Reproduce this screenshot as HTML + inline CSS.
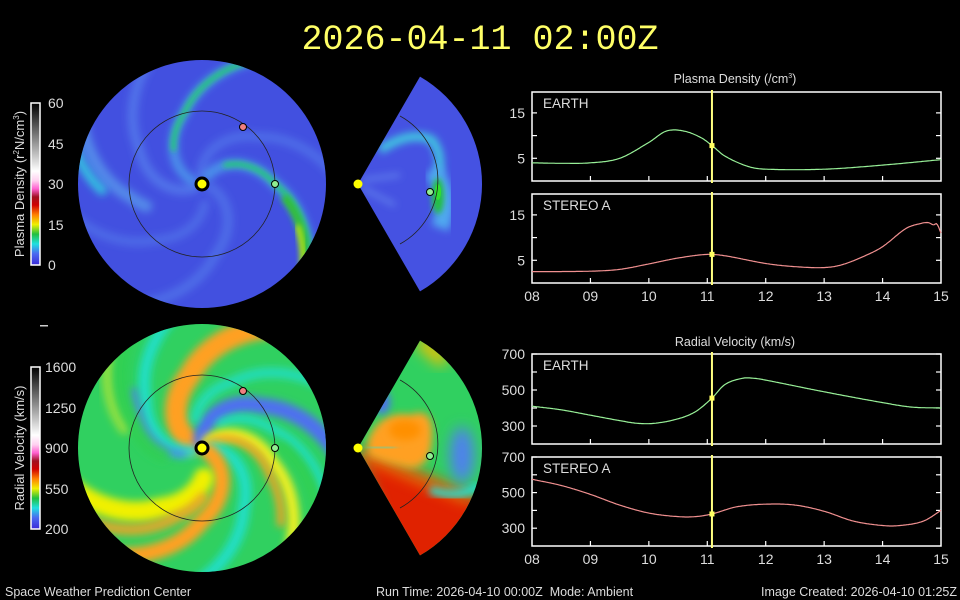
<!DOCTYPE html>
<html><head><meta charset="utf-8">
<style>
html,body{margin:0;padding:0;background:#000;}
svg{display:block;}
text{font-family:"Liberation Sans",sans-serif;fill:#ddd;}
</style></head>
<body>
<svg id="s" width="960" height="600" viewBox="0 0 960 600" xmlns="http://www.w3.org/2000/svg">
<defs>
 <linearGradient id="cbD" x1="0" y1="1" x2="0" y2="0">
  <stop offset="0" stop-color="#3a2ad8"/><stop offset="0.07" stop-color="#4a6af0"/>
  <stop offset="0.13" stop-color="#20e0e0"/><stop offset="0.19" stop-color="#20c040"/>
  <stop offset="0.25" stop-color="#f0f000"/><stop offset="0.31" stop-color="#ff8000"/>
  <stop offset="0.37" stop-color="#d00000"/><stop offset="0.42" stop-color="#a01020"/>
  <stop offset="0.47" stop-color="#ff60d0"/><stop offset="0.52" stop-color="#ffd0f0"/>
  <stop offset="0.58" stop-color="#ffffff"/><stop offset="1" stop-color="#000000"/>
 </linearGradient>
 <clipPath id="c1"><circle cx="202" cy="184" r="124"/></clipPath>
 <clipPath id="c2"><circle cx="202" cy="448" r="124"/></clipPath>
 <clipPath id="w1"><path d="M358,184 L420,76.6 A124,124 0 0 1 420,291.4 Z"/></clipPath>
 <clipPath id="w2"><path d="M358,448 L420,340.6 A124,124 0 0 1 420,555.4 Z"/></clipPath>
 <filter id="b3" x="-50%" y="-50%" width="200%" height="200%"><feGaussianBlur stdDeviation="3"/></filter>
 <filter id="b4" x="-50%" y="-50%" width="200%" height="200%"><feGaussianBlur stdDeviation="4"/></filter>
 <filter id="b7" x="-50%" y="-50%" width="200%" height="200%"><feGaussianBlur stdDeviation="7"/></filter>
</defs>

<text x="480" y="49" text-anchor="middle" style="font-family:'Liberation Mono',monospace;font-size:35px;fill:#ffff66">2026-04-11 02:00Z</text>

<rect x="31" y="103" width="9" height="162" fill="url(#cbD)" stroke="#fff" stroke-width="1.5"/>
<rect x="31" y="367" width="9" height="162" fill="url(#cbD)" stroke="#fff" stroke-width="1.5"/>
<g font-size="14">
<text x="48" y="108">60</text><text x="48" y="149">45</text><text x="48" y="189">30</text><text x="48" y="230">15</text><text x="48" y="270">0</text>
<text x="45" y="372">1600</text><text x="45" y="413">1250</text><text x="45" y="453">900</text><text x="45" y="494">550</text><text x="45" y="534">200</text>
</g>
<text transform="translate(24,184) rotate(-90)" text-anchor="middle" font-size="13">Plasma Density (r<tspan font-size="8" dy="-5">2</tspan><tspan dy="5">N/cm</tspan><tspan font-size="8" dy="-5">3</tspan><tspan dy="5">)</tspan></text>
<text transform="translate(24,448) rotate(-90)" text-anchor="middle" font-size="13">Radial Velocity (km/s)</text>
<rect x="40" y="325" width="8" height="1.5" fill="#ccc"/>

<g id="g1" clip-path="url(#c1)"><rect x="70" y="50" width="270" height="270" fill="#4250e0"/></g>
<g id="g2" clip-path="url(#c2)"><rect x="70" y="314" width="270" height="270" fill="#30d060"/></g>
<g id="g3" clip-path="url(#w1)"><rect x="350" y="60" width="140" height="240" fill="#4552e2"/></g>
<g id="g4" clip-path="url(#w2)"><rect x="350" y="330" width="140" height="240" fill="#30d060"/></g>
<g id="ov"></g>
<g id="plots"></g>

<g font-size="12.5">
<text x="5" y="596">Space Weather Prediction Center</text>
<text x="376" y="596" xml:space="preserve">Run Time: 2026-04-10 00:00Z  Mode: Ambient</text>
<text x="957" y="596" text-anchor="end">Image Created: 2026-04-10 01:25Z</text>
</g>
</svg>
<script>
const NS="http://www.w3.org/2000/svg";
function el(p,t,a){const e=document.createElementNS(NS,t);for(const k in a)e.setAttribute(k,a[k]);p.appendChild(e);return e;}
const D2R=Math.PI/180;
function spiral(g,cx,cy,a0,w,col,op,r0,r1,blur){
  let pts=[];
  for(let r=r0;r<=r1;r+=3){const k=r<73?0.9:0.6;const a=(a0+k*(r-73))*D2R;pts.push((cx+r*Math.cos(a)).toFixed(1)+","+(cy+r*Math.sin(a)).toFixed(1));}
  el(g,"polyline",{points:pts.join(" "),fill:"none",stroke:col,"stroke-width":w,"stroke-opacity":op,"stroke-linecap":"round",filter:"url(#"+(blur||"b4")+")"});
}
const g1=document.getElementById("g1");
[[-150,10,"#5a8af0",0.6,8,135],[-40,9,"#5a8af0",0.5,8,135],[80,10,"#5a8af0",0.5,8,135],[130,9,"#5a8af0",0.45,20,135],[170,12,"#60b0f0",0.6,60,140],
 [0,10,"#50b0f0",0.7,10,140],[-104,9,"#50b0f0",0.7,10,140]].forEach(s=>spiral(g1,202,184,...s));
spiral(g1,202,184,0,5,"#20d070",1,30,140,"b3");
spiral(g1,202,184,3,8,"#30c030",1,85,140,"b3");
spiral(g1,202,184,5,5,"#d0f000",0.9,105,140,"b3");
spiral(g1,202,184,-104,5,"#20d070",1,45,140,"b3");
spiral(g1,202,184,160,9,"#30e0e0",0.8,100,140);
el(g1,"circle",{cx:202,cy:184,r:73,fill:"none",stroke:"#222","stroke-width":0.8});
const g2=document.getElementById("g2");
[[-100,22,"#ffa020",1,10,140],[-140,12,"#20e0d0",0.9,10,140],[-150,8,"#5080f0",0.8,20,90],
 [-35,16,"#5070f0",1,8,150],[-15,8,"#20e0d0",0.9,30,150],[12,12,"#f0f020",1,8,150],[22,8,"#ffa020",0.9,10,110],
 [55,12,"#20e0d0",0.9,10,140],[90,16,"#ffa020",1,8,150],[125,20,"#f0f000",1,30,150],[110,12,"#ffa020",0.8,50,150],
 [-65,10,"#20e0d0",0.8,30,150],[-170,12,"#f0f020",0.5,80,150],[200,14,"#30d050",0.8,40,150],[-5,10,"#30d050",0.8,80,150]].forEach(s=>spiral(g2,202,448,...s));
el(g2,"circle",{cx:202,cy:448,r:73,fill:"none",stroke:"#222","stroke-width":0.8});
const g3=document.getElementById("g3");
el(g3,"path",{d:"M380,150 Q410,130 432,140 Q443,155 438,175",fill:"none",stroke:"#40d0e0","stroke-width":8,filter:"url(#b4)"});
el(g3,"path",{d:"M432,170 Q452,195 440,228",fill:"none",stroke:"#50a8f0","stroke-width":18,filter:"url(#b4)"});
el(g3,"ellipse",{cx:438,cy:196,rx:6,ry:18,fill:"#20c040",filter:"url(#b3)"});
el(g3,"ellipse",{cx:438,cy:192,rx:3,ry:8,fill:"#30e030"});
el(g3,"path",{d:"M362,180 L400,175 M362,188 L395,205",stroke:"#6a90f0","stroke-width":3,filter:"url(#b4)"});
el(g3,"path",{d:"M400,116 A73,73 0 0 1 400,244",fill:"none",stroke:"#222","stroke-width":0.8});
const g4=document.getElementById("g4");
el(g4,"path",{d:"M358,448 L490,505 L490,570 L400,570 Z",fill:"#e02000",filter:"url(#b7)"});
el(g4,"path",{d:"M362,455 L470,500",stroke:"#ff8000","stroke-width":10,opacity:0.7,filter:"url(#b7)"});
el(g4,"path",{d:"M430,490 Q460,500 480,485",fill:"none",stroke:"#20e0d0","stroke-width":8,filter:"url(#b4)"});
el(g4,"path",{d:"M368,440 Q380,410 410,415 Q435,405 432,440 Q430,468 410,468 Q380,462 368,455 Z",fill:"#ffa020",filter:"url(#b4)"});
el(g4,"ellipse",{cx:405,cy:430,rx:16,ry:10,fill:"#ff9000",filter:"url(#b4)"});
el(g4,"path",{d:"M368,447 L395,448",stroke:"#30e0d0","stroke-width":4,filter:"url(#b4)"});
el(g4,"ellipse",{cx:462,cy:455,rx:12,ry:28,fill:"#5080f0",filter:"url(#b7)"});
el(g4,"ellipse",{cx:382,cy:402,rx:8,ry:12,fill:"#5070f0",filter:"url(#b4)"});
el(g4,"path",{d:"M420,340 L445,362",stroke:"#f0c000","stroke-width":14,filter:"url(#b7)"});
el(g4,"path",{d:"M400,380 A73,73 0 0 1 400,508",fill:"none",stroke:"#222","stroke-width":0.8});
const ov=document.getElementById("ov");
[[202,184],[202,448]].forEach(([x,y])=>{el(ov,"circle",{cx:x,cy:y,r:6,fill:"#ff0",stroke:"#000","stroke-width":3});});
[[358,184],[358,448]].forEach(([x,y])=>{el(ov,"circle",{cx:x,cy:y,r:4.5,fill:"#ff0"});});
[[243,127],[243,391]].forEach(([x,y])=>el(ov,"circle",{cx:x,cy:y,r:3.5,fill:"#f08080",stroke:"#000","stroke-width":1}));
[[275,184],[275,448],[430,192],[430,456]].forEach(([x,y])=>el(ov,"circle",{cx:x,cy:y,r:3.5,fill:"#90ee90",stroke:"#000","stroke-width":1}));

const P=document.getElementById("plots");
const X0=532,X1=941,dx=(X1-X0)/7;
function interp(pts,x){for(let i=0;i<pts.length-1;i++){if(x<=pts[i+1][0]){const p0=pts[Math.max(0,i-1)],p1=pts[i],p2=pts[i+1],p3=pts[Math.min(pts.length-1,i+2)];
 const t=(x-p1[0])/(p2[0]-p1[0]);const m1=(p2[1]-p0[1])/(p2[0]-p0[0])*(p2[0]-p1[0]),m2=(p3[1]-p1[1])/(p3[0]-p1[0])*(p2[0]-p1[0]);
 const t2=t*t,t3=t2*t;return (2*t3-3*t2+1)*p1[1]+(t3-2*t2+t)*m1+(-2*t3+3*t2)*p2[1]+(t3-t2)*m2;}}return pts[pts.length-1][1];}
function panel(top,bot,ymin,ymax,yt,lab,data,col,xlabels){
  el(P,"rect",{x:X0,y:top,width:X1-X0,height:bot-top,fill:"none",stroke:"#fff","stroke-width":1.5});
  const Y=v=>bot-(v-ymin)/(ymax-ymin)*(bot-top);
  for(let i=1;i<7;i++){const x=X0+i*dx;el(P,"line",{x1:x,y1:bot,x2:x,y2:bot-5,stroke:"#fff","stroke-width":1.2});}
  yt.forEach(([v,l])=>{const y=Y(v);el(P,"line",{x1:X0,y1:y,x2:X0+5,y2:y,stroke:"#fff","stroke-width":1.2});el(P,"line",{x1:X1,y1:y,x2:X1-5,y2:y,stroke:"#fff","stroke-width":1.2});
    if(l){const t=el(P,"text",{x:525,y:y+5,"text-anchor":"end","font-size":14});t.textContent=l;}});
  const t=el(P,"text",{x:543,y:top+16,"font-size":13.5});t.textContent=lab;
  let pts=[];for(let d=8;d<=15.0001;d+=0.02){pts.push((X0+(d-8)*dx).toFixed(1)+","+Y(interp(data,d)).toFixed(1));}
  el(P,"polyline",{points:pts.join(" "),fill:"none",stroke:col,"stroke-width":1.2});
  const xv=X0+3.08*dx;
  el(P,"line",{x1:xv,y1:top-2,x2:xv,y2:bot+2,stroke:"#ffff80","stroke-width":2});
  el(P,"rect",{x:xv-2.5,y:Y(interp(data,11.08))-2.5,width:5,height:5,fill:"#ffff60"});
  if(xlabels){const L=["08","09","10","11","12","13","14","15"];for(let i=0;i<=7;i++){const tt=el(P,"text",{x:X0+i*dx,y:bot+18,"text-anchor":"middle","font-size":14});tt.textContent=L[i];}}
}
const ED=[[8,4],[8.5,3.9],[9,4],[9.5,5],[10,8.5],[10.3,11],[10.6,11],[10.9,9.5],[11.08,7.8],[11.3,5.5],[11.7,3.2],[12,2.6],[13,2.6],[14,3.5],[15,4.7]];
const SD=[[8,2.5],[9,2.6],[9.5,3],[10,4.2],[10.5,5.5],[11,6.3],[11.3,6],[12,4.3],[12.5,3.6],[13,3.4],[13.3,4],[13.7,6],[14,8],[14.4,12],[14.65,13.1],[14.78,13.3],[14.87,12.8],[14.93,13],[15,11]];
const EV=[[8,410],[8.5,390],[9,360],[9.5,330],[9.8,315],[10.1,315],[10.5,340],[10.8,380],[11.08,455],[11.3,530],[11.6,565],[11.8,565],[12,555],[13,490],[14,430],[14.5,405],[15,400]];
const SV=[[8,575],[8.5,540],[9,490],[9.5,430],[10,385],[10.5,365],[10.8,365],[11.08,380],[11.5,420],[12,435],[12.5,430],[13,395],[13.5,340],[14,315],[14.3,315],[14.7,340],[15,400]];
const dt=[[15,"15"],[10,""],[5,"5"]];
panel(92,181,0,19.6,dt,"EARTH",ED,"#98f098",false);
panel(194,283,0,19.6,dt,"STEREO A",SD,"#f09090",true);
const vt=[[700,"700"],[600,""],[500,"500"],[400,""],[300,"300"]];
panel(354,444,200,700,vt,"EARTH",EV,"#98f098",false);
panel(457,546,200,700,vt,"STEREO A",SV,"#f09090",true);
let t=el(P,"text",{x:735,y:83,"text-anchor":"middle","font-size":12.5});t.innerHTML='Plasma Density (/cm<tspan font-size="7" dy="-5">3</tspan><tspan dy="5">)</tspan>';
t=el(P,"text",{x:735,y:346,"text-anchor":"middle","font-size":12.5});t.textContent="Radial Velocity (km/s)";
</script>
</body></html>
